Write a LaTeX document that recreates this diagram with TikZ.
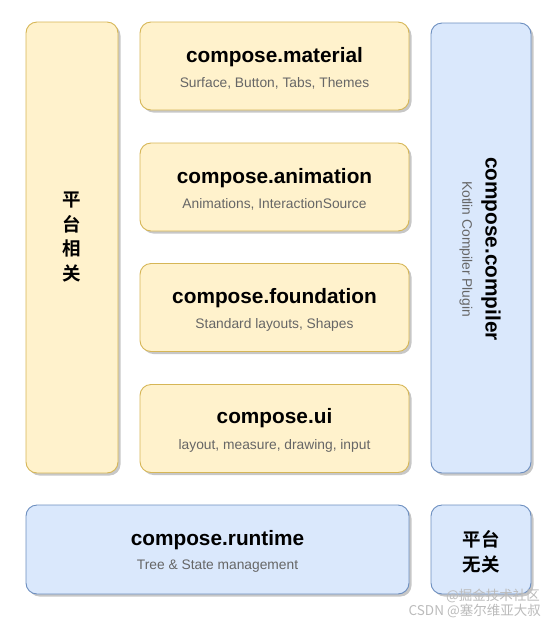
\documentclass[tikz,border=0pt]{standalone}
\usepackage{fontspec}
\setmainfont{Liberation Sans}
\newfontfamily\cjk{Noto Sans CJK SC}
\newfontfamily\cjkb{Noto Sans CJK SC Bold}
\usetikzlibrary{shadows}
\definecolor{yfill}{HTML}{FFF2CC}
\definecolor{ydraw}{HTML}{D6B656}
\definecolor{bfill}{HTML}{DAE8FC}
\definecolor{bdraw}{HTML}{6C8EBF}
\definecolor{subgray}{HTML}{666666}
\definecolor{wm}{HTML}{BBBBBB}
\tikzset{
  boxbase/.style={rectangle, rounded corners=11pt, line width=0.9pt,
    drop shadow={shadow xshift=2.5pt, shadow yshift=-2.5pt, opacity=0.22, fill=black}},
  ybox/.style={boxbase, fill=yfill, draw=ydraw},
  bbox/.style={boxbase, fill=bfill, draw=bdraw},
  ttl/.style={font=\fontsize{20.8}{22}\selectfont\bfseries, inner sep=0pt},
  sub/.style={font=\fontsize{13.8}{15}\selectfont, text=subgray, inner sep=0pt},
  cn/.style={font=\fontsize{18.5}{24.5}\selectfont\cjkb, inner sep=0pt, align=center},
  wmark/.style={font=\fontsize{13.5}{14}\selectfont\cjk, text=wm, inner sep=0pt, anchor=east}
}
\begin{document}
\begin{tikzpicture}[x=1pt,y=-1pt]
\useasboundingbox (0,0) rectangle (558,625);
% boxes
\node[ybox, minimum width=92pt, minimum height=451pt] (plat) at (72,247.5) {};
\node[ybox, minimum width=269pt, minimum height=88pt] (mat) at (274.5,66) {};
\node[ybox, minimum width=269pt, minimum height=88pt] (anim) at (274.5,187) {};
\node[ybox, minimum width=269pt, minimum height=88pt] (found) at (274.5,307.5) {};
\node[ybox, minimum width=269pt, minimum height=88pt] (ui) at (274.5,428.5) {};
\node[bbox, minimum width=100pt, minimum height=450pt] (comp) at (481,248) {};
\node[bbox, minimum width=383pt, minimum height=89pt] (rt) at (217.5,549.5) {};
\node[bbox, minimum width=100pt, minimum height=89pt] (free) at (481,549.5) {};
% texts
\node[cn] (platt) at (72,237) {平\\台\\相\\关};
\node[ttl] (matt) at (274.5,57) {compose.material};
\node[sub] (mats) at (274.5,83) {Surface, Button, Tabs, Themes};
\node[ttl] (animt) at (274.5,178) {compose.animation};
\node[sub] (anims) at (274.5,204) {Animations, InteractionSource};
\node[ttl] (foundt) at (274.5,298) {compose.foundation};
\node[sub] (founds) at (274.5,325) {Standard layouts, Shapes};
\node[ttl] (uit) at (274.5,418) {compose.ui};
\node[sub] (uis) at (274.5,446) {layout, measure, drawing, input};
\node[ttl, rotate=-90] (compt) at (491,249) {compose.compiler};
\node[sub, rotate=-90] (comps) at (466,249) {Kotlin Compiler Plugin};
\node[ttl] (rtt) at (217.5,540) {compose.runtime};
\node[sub] (rts) at (217.5,566) {Tree \& State management};
\node[cn] (freet) at (481,552) {平台\\无关};
% watermark
\node[wmark] (wm1) at (540,596) {@掘金技术社区};
\node[wmark] (wm2) at (541,611) {CSDN @塞尔维亚大叔};
\end{tikzpicture}
\end{document}
